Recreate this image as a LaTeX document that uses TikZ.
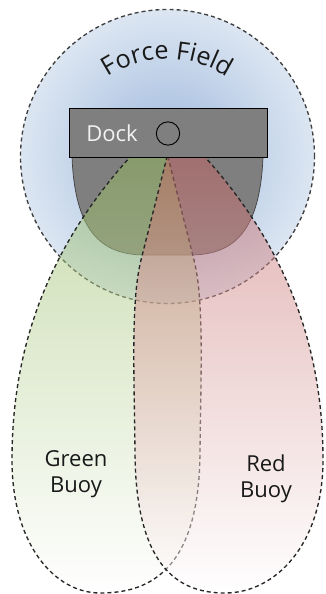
\documentclass[tikz,border=0pt]{standalone}
\usepackage{fontspec}
\setmainfont{Open Sans}
\usetikzlibrary{decorations.text}
\definecolor{fieldin}{HTML}{9DB7DC}
\definecolor{fieldout}{HTML}{DCE6F2}
\definecolor{dockgray}{HTML}{7F7F7F}
\definecolor{greenbeam}{HTML}{8DB555}
\definecolor{redbeam}{HTML}{C15D5D}
\newcommand{\labelsize}{\fontsize{18.8}{22}\selectfont}
\newcommand{\fieldsize}{\fontsize{21.5}{24}\selectfont}
\begin{document}
\begin{tikzpicture}[x=0.03cm,y=0.03cm,
	fieldline/.style={draw=black!75,line width=1.15pt,dash pattern=on 3.4pt off 2.6pt},
	beamline/.style={draw=black!85,line width=1.15pt,dash pattern=on 3.4pt off 2.6pt,fill opacity=0.5},
	buoytext/.style={font=\labelsize,text=black!90,align=center}]
	\useasboundingbox (0,0) rectangle (325,-594);
	
	\path[fieldline,inner color=fieldin,outer color=fieldout] (167.5,-156.5) circle[radius=147];
	\path[decorate,decoration={text along path,text align=center,text={|\fieldsize\color{black!90}|Force Field}}]
		(167.5,-167) ++(155:108) arc[start angle=155,end angle=25,radius=108];
	
	\draw[draw=black!75,line width=0.6pt,fill=dockgray] (72,-157) .. controls (75,-230) and (100,-255) .. (145,-255) -- (190,-255) .. controls (235,-255) and (260,-230) .. (263,-157) -- cycle;
	
	\path[beamline,top color=greenbeam,bottom color=white] (140,-143) -- (130,-157) .. controls (40,-257) and (12,-360) .. (12,-460) .. controls (12,-545) and (55,-593) .. (100,-593) .. controls (145,-593) and (200,-575) .. (200,-450) .. controls (201,-370) and (204,-300) .. (194,-260) -- (168,-157) -- (164,-143) -- cycle;
	\path[beamline,top color=redbeam,bottom color=white] (195,-143) -- (205,-157) .. controls (295,-257) and (323,-360) .. (323,-460) .. controls (323,-545) and (275,-593) .. (225,-593) .. controls (185,-593) and (135,-575) .. (135,-450) .. controls (134,-370) and (131,-300) .. (141,-260) -- (167,-157) -- (171,-143) -- cycle;
	
	\draw[line width=0.8pt,fill=dockgray] (69,-108) rectangle (267,-157);
	\node[font=\labelsize,text=white!95!black] (docklabel) at (112,-133) {Dock};
	\node[circle,draw,line width=0.8pt,fill=dockgray,minimum size=0.7cm,inner sep=0pt] (dockport) at (168,-133.5) {};
	
	\node[buoytext] (greenbuoy) at (76,-474) {Green\\Buoy};
	\node[buoytext] (redbuoy) at (266,-479) {Red\\Buoy};
\end{tikzpicture}
\end{document}
